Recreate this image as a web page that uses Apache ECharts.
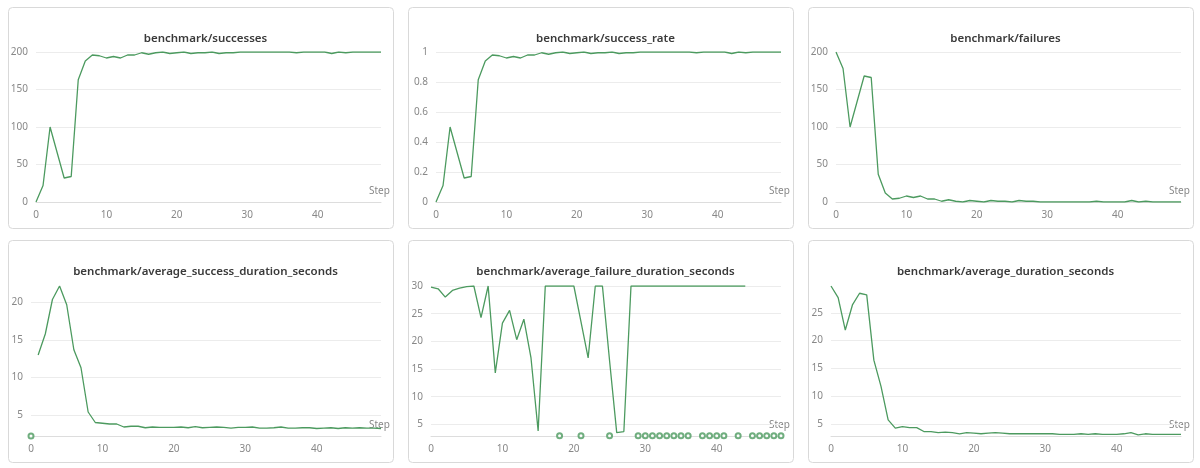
<!DOCTYPE html>
<html>
<head>
<meta charset="utf-8">
<script src="https://cdn.jsdelivr.net/npm/echarts@6/dist/echarts.min.js"></script>
<style>
  html, body { margin: 0; padding: 0; background: #fff; }
  #chart { width: 1200px; height: 468px; }
</style>
</head>
<body>
<div id="chart"></div>
<script>
// steps 0..49
const steps = Array.from({ length: 50 }, (_, i) => i)

const titles = [
  'benchmark/successes',
  'benchmark/success_rate',
  'benchmark/failures',
  'benchmark/average_success_duration_seconds',
  'benchmark/average_failure_duration_seconds',
  'benchmark/average_duration_seconds'
]

const successes = [0, 22, 100, 66, 32, 34, 163, 188, 196, 195, 192, 194, 192, 196, 196, 199, 197, 199, 200, 198,
  199, 200, 198, 199, 199, 200, 198, 199, 199, 200, 200, 200, 200, 200, 200, 200, 200, 199, 200, 200,
  200, 200, 198, 200, 199, 200, 200, 200, 200, 200]

const successRate = [0, 0.11, 0.5, 0.33, 0.16, 0.17, 0.815, 0.94, 0.98, 0.975, 0.96, 0.97, 0.96, 0.98, 0.98, 0.995, 0.985, 0.995, 1, 0.99,
  0.995, 1, 0.99, 0.995, 0.995, 1, 0.99, 0.995, 0.995, 1, 1, 1, 1, 1, 1, 1, 1, 0.995, 1, 1,
  1, 1, 0.99, 1, 0.995, 1, 1, 1, 1, 1]

const failures = [200, 178, 100, 134, 168, 166, 37, 12, 4, 5, 8, 6, 8, 4, 4, 1, 3, 1, 0, 2,
  1, 0, 2, 1, 1, 0, 2, 1, 1, 0, 0, 0, 0, 0, 0, 0, 0, 1, 0, 0,
  0, 0, 2, 0, 1, 0, 0, 0, 0, 0]

const avgSuccessDur = [null, 13, 15.8, 20.4, 22.2, 19.7, 13.7, 11.3, 5.4, 4, 3.9, 3.8, 3.8, 3.4, 3.5, 3.5, 3.3, 3.4, 3.35, 3.35,
  3.35, 3.4, 3.3, 3.45, 3.3, 3.35, 3.4, 3.35, 3.25, 3.35, 3.35, 3.4, 3.25, 3.25, 3.3, 3.4, 3.25, 3.25, 3.3, 3.3,
  3.2, 3.25, 3.3, 3.2, 3.3, 3.25, 3.3, 3.25, 3.25, 3.2]
const avgSuccessDots = [[0, 2.2]]

const avgFailureDur = [29.8, 29.5, 28, 29.2, 29.6, 29.9, 30, 24.3, 30, 14.3, 23.3, 25.6, 20.3, 24, 17, 3.8, 30, 30, 30, 30,
  30, 23.5, 17, 30, 30, 16.5, 3.5, 3.7, 30, 30, 30, 30, 30, 30, 30, 30, 30, 30, 30, 30,
  30, 30, 30, 30, 30]
const failureDotSteps = [18, 21, 25, 29, 30, 31, 32, 33, 34, 35, 36, 38, 39, 40, 41, 43, 45, 46, 47, 48, 49]

const avgDur = [29.8, 27.7, 21.9, 26.4, 28.5, 28.2, 16.5, 11.8, 5.8, 4.3, 4.6, 4.4, 4.4, 3.7, 3.7, 3.5, 3.6, 3.5, 3.3, 3.5,
  3.4, 3.3, 3.4, 3.5, 3.4, 3.3, 3.3, 3.3, 3.3, 3.3, 3.3, 3.3, 3.2, 3.2, 3.2, 3.3, 3.2, 3.3, 3.2, 3.2,
  3.2, 3.3, 3.5, 3.1, 3.3, 3.2, 3.2, 3.2, 3.2, 3.2]

const lines = [successes, successRate, failures, avgSuccessDur, avgFailureDur, avgDur]
const yRanges = [
  { min: 0, max: 200, ticks: [0, 50, 100, 150, 200] },
  { min: 0, max: 1, ticks: [0, 0.2, 0.4, 0.6, 0.8, 1] },
  { min: 0, max: 200, ticks: [0, 50, 100, 150, 200] },
  { min: 2.2, max: 22.2, ticks: [5, 10, 15, 20] },
  { min: 2.9, max: 30, ticks: [5, 10, 15, 20, 25, 30] },
  { min: 2.9, max: 29.8, ticks: [5, 10, 15, 20, 25] }
]

const GREEN = '#4c9a5f'
const FONT = 'Noto Sans'
const panelW = 385
const panelLefts = [8, 408, 808]
const panelTops = [7, 240]
const panelH = [221, 222]

const chart = echarts.init(document.getElementById('chart'), null, { renderer: 'canvas' })

const grids = []
const xAxes = []
const yAxes = []
const series = []
const title = []
const graphic = []

for (let i = 0; i < 6; i++) {
  const col = i % 3
  const row = Math.floor(i / 3)
  const pl = panelLefts[col]
  const pt = panelTops[row]
  const gl = pl + 28 - (row ? 5 : 0)
  const gt = pt + 45 + row
  const gw = 345 + (row ? 5 : 0)
  const gh = 150
  grids.push({ left: gl, top: gt, width: gw, height: gh })
  graphic.push({
    type: 'rect', left: pl, top: pt, z: -1,
    shape: { width: panelW, height: panelH[row], r: 4 },
    style: { fill: '#fff', stroke: '#d9d9d9', lineWidth: 1 }
  })
  graphic.push({
    type: 'text', left: gl + gw - 12, top: gt + gh - 16,
    style: { text: 'Step', fill: '#888', font: '10px "Noto Sans", sans-serif' }
  })
  title.push({
    text: titles[i], left: pl + panelW / 2, top: pt + 21, textAlign: 'center',
    textStyle: { fontSize: 11.5, fontWeight: 600, color: '#3a3a3a', fontFamily: FONT }
  })
  xAxes.push({
    gridIndex: i, type: 'value', min: 0, max: 49, interval: 10,
    axisLine: { show: true, lineStyle: { color: '#ddd' } },
    axisTick: { show: false },
    splitLine: { show: false },
    axisLabel: { color: '#888', fontSize: 10, showMaxLabel: false, margin: 8, fontFamily: FONT }
  })
  const yr = yRanges[i]
  yAxes.push({
    gridIndex: i, type: 'value', min: yr.min, max: yr.max,
    axisLine: { show: false }, axisTick: { show: false, customValues: yr.ticks },
    splitLine: { show: true, lineStyle: { color: '#ececec' } },
    axisLabel: { color: '#888', fontSize: 10, margin: 8, customValues: yr.ticks, fontFamily: FONT }
  })
  series.push({
    type: 'line', xAxisIndex: i, yAxisIndex: i, showSymbol: false,
    data: lines[i].map((v, s) => [steps[s], v]),
    lineStyle: { color: GREEN, width: 1.3 }, itemStyle: { color: GREEN }
  })
}

series.push({
  type: 'scatter', xAxisIndex: 3, yAxisIndex: 3, symbol: 'emptyCircle', symbolSize: 5,
  data: avgSuccessDots, itemStyle: { color: GREEN, borderColor: GREEN, borderWidth: 1 }
})
series.push({
  type: 'scatter', xAxisIndex: 4, yAxisIndex: 4, symbol: 'emptyCircle', symbolSize: 5,
  data: failureDotSteps.map(s => [s, 2.95]), itemStyle: { color: GREEN, borderColor: GREEN, borderWidth: 1 }
})

chart.setOption({
  animation: false,
  title,
  grid: grids,
  xAxis: xAxes,
  yAxis: yAxes,
  series,
  graphic
})
</script>
</body>
</html>
